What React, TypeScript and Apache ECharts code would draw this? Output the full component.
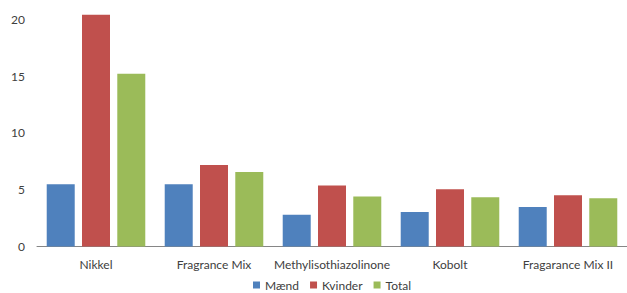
import React, { useEffect, useRef } from "react";
import * as echarts from "echarts";

const categories = ["Nikkel", "Fragrance Mix", "Methylisothiazolinone", "Kobolt", "Fragarance Mix II"];
const maend = [5.48, 5.48, 2.8, 3.04, 3.48];
const kvinder = [20.4, 7.18, 5.37, 5.04, 4.51];
const total = [15.2, 6.56, 4.4, 4.33, 4.25];
const yTicks = [0, 5, 10, 15, 20];

const FONT = "Lato";

export default function App() {
  const ref = useRef<HTMLDivElement>(null);
  useEffect(() => {
    if (!ref.current) return;
    const chart = echarts.init(ref.current, undefined, { renderer: "svg" });
    const barCommon = {
      type: "bar" as const,
      barWidth: 28,
      barGap: "26%",
    };
    chart.setOption({
      animation: false,
      grid: { left: 37, right: 0, top: 8, bottom: 46.5, containLabel: false },
      legend: {
        left: 253,
        top: 279,
        padding: 0,
        itemWidth: 7,
        itemHeight: 7,
        itemGap: 11,
        icon: "rect",
        textStyle: { fontFamily: FONT, fontSize: 12, color: "#404040" },
        data: ["Mænd", "Kvinder", "Total"],
      },
      xAxis: {
        type: "category",
        data: categories,
        axisLine: { show: true, lineStyle: { color: "#868686", width: 1 } },
        axisTick: { show: false },
        axisLabel: { fontFamily: FONT, fontSize: 12, color: "#404040", margin: 12, interval: 0 },
      },
      yAxis: {
        type: "value",
        min: 0,
        max: 21,
        interval: 5,
        splitLine: { show: false },
        axisLine: { show: false },
        axisTick: { show: false },
        axisLabel: {
          fontFamily: FONT,
          fontSize: 12,
          color: "#404040",
          margin: 12,
          formatter: (v: number) => (yTicks.includes(v) ? String(v) : ""),
        },
      },
      series: [
        { ...barCommon, name: "Mænd", data: maend, itemStyle: { color: "#4F81BD" } },
        { ...barCommon, name: "Kvinder", data: kvinder, itemStyle: { color: "#C0504D" } },
        { ...barCommon, name: "Total", data: total, itemStyle: { color: "#9BBB59" } },
      ],
    });
    return () => chart.dispose();
  }, []);
  return (
    <div
      ref={ref}
      style={{ position: "absolute", left: 0, top: 0, width: 627, height: 293, background: "#fff" }}
    />
  );
}
